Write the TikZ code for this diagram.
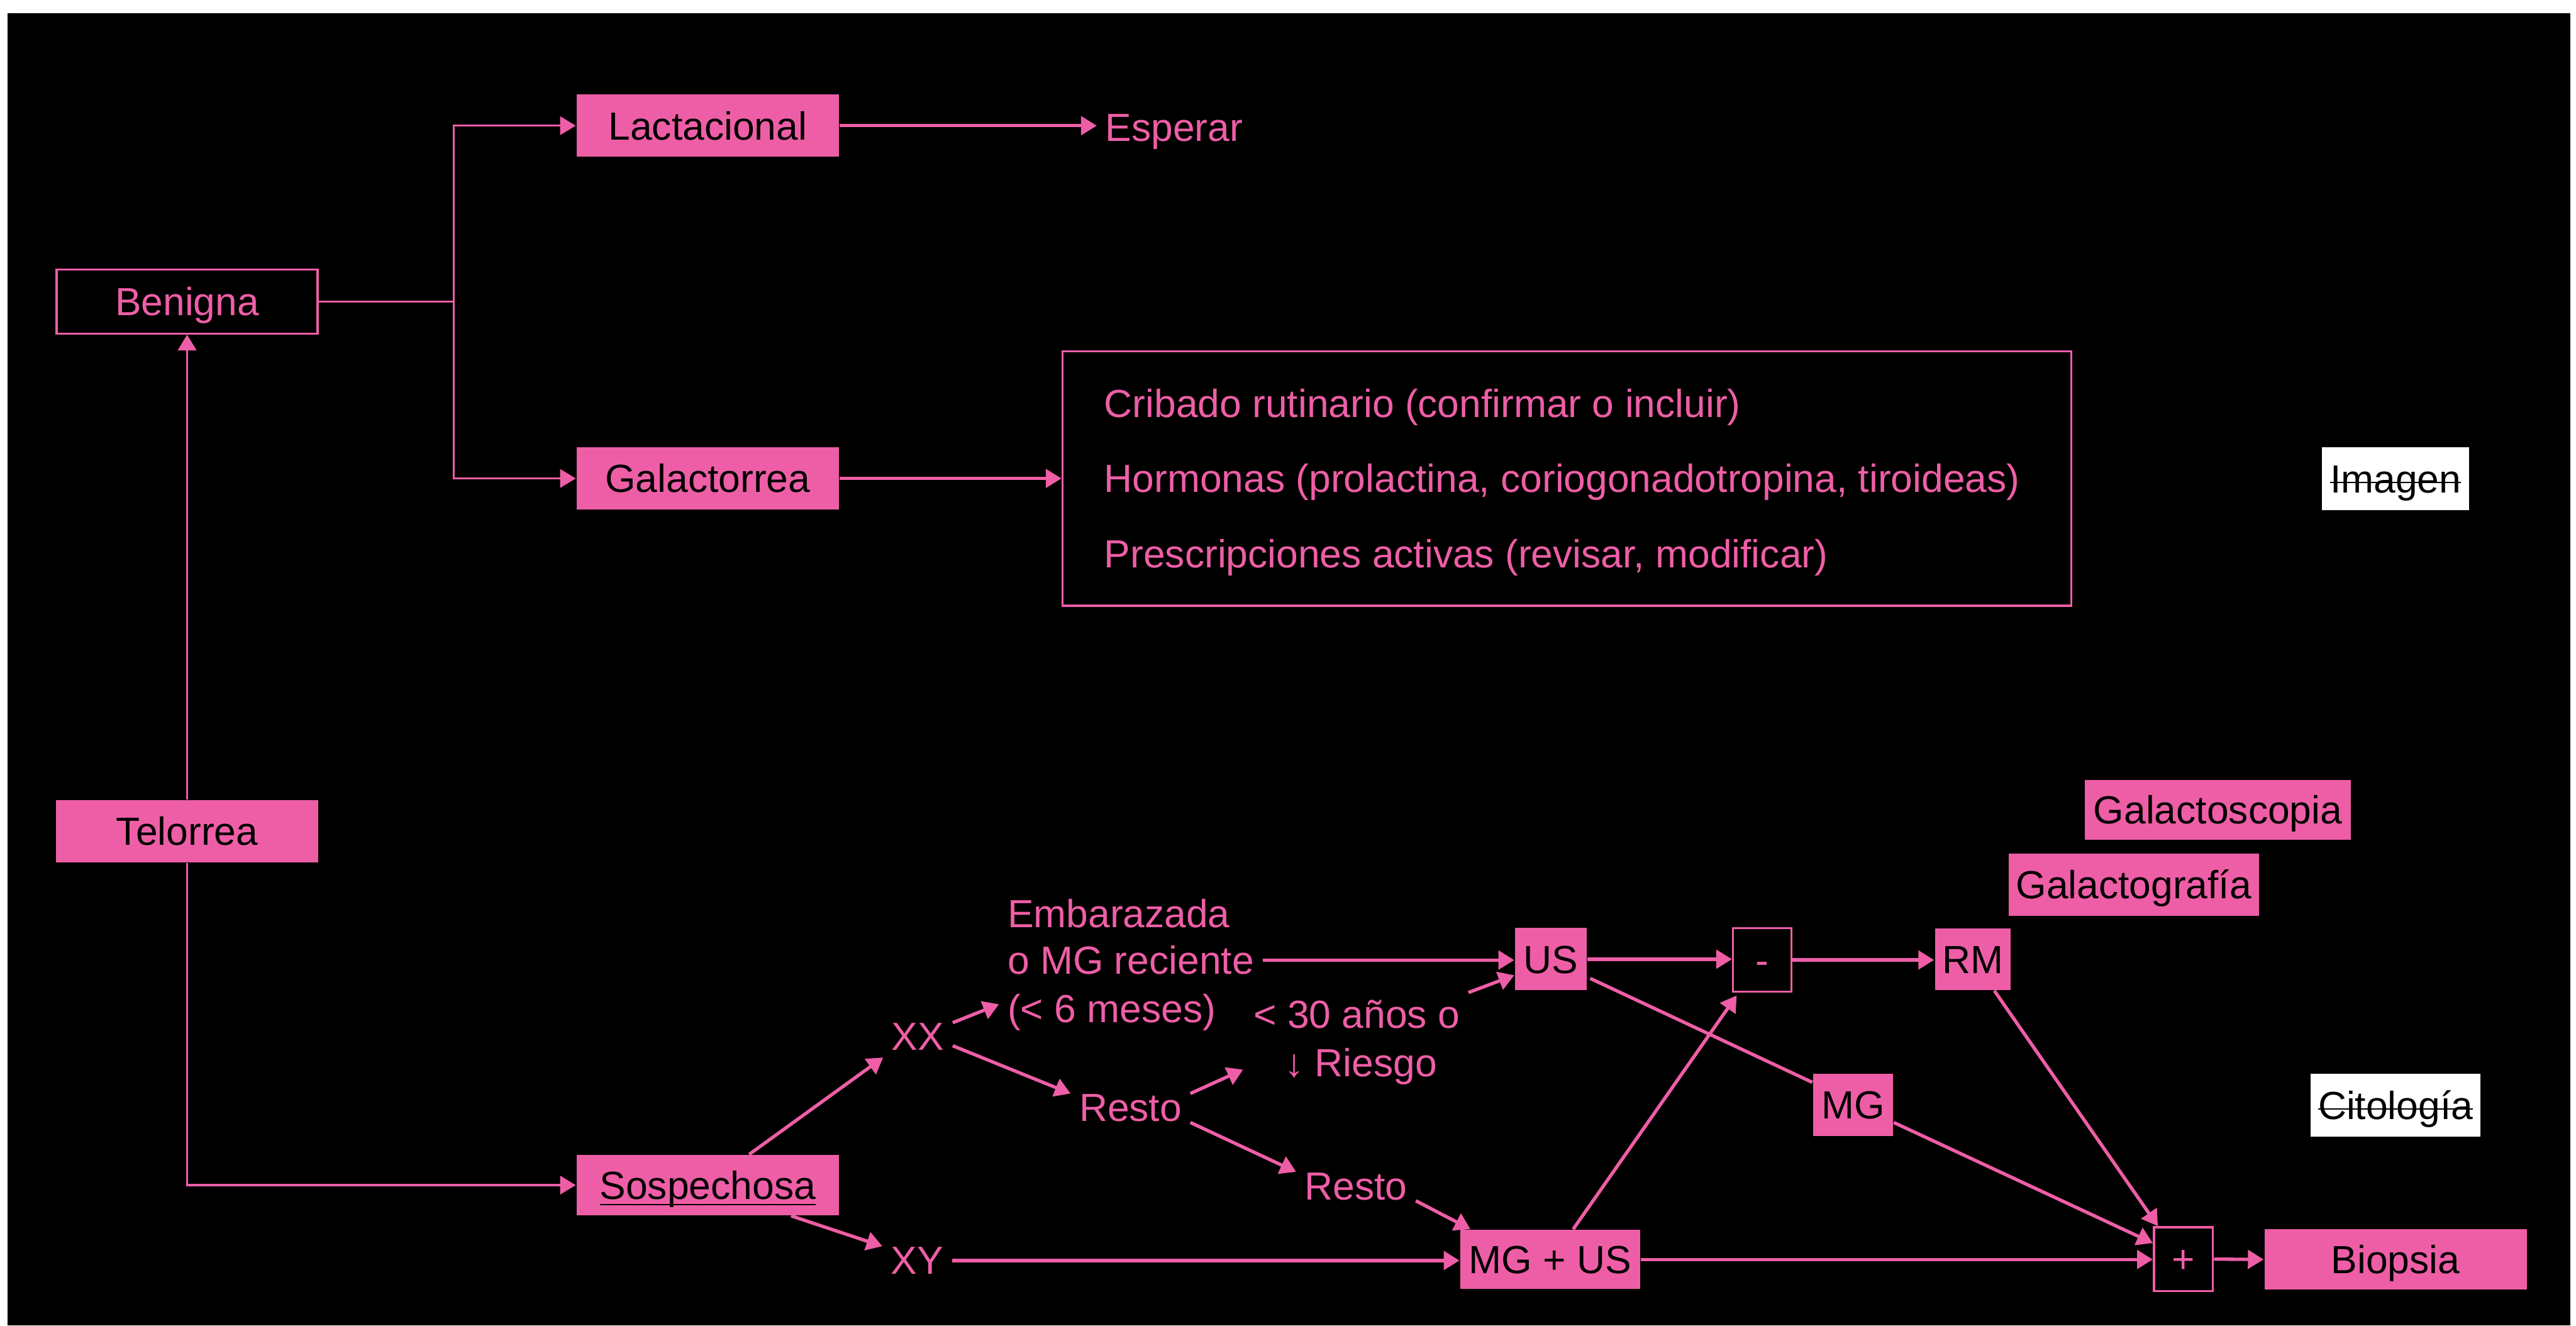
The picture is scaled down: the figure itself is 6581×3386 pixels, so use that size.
\documentclass[tikz,border=0pt]{standalone}
\usepackage{fontspec}
\setmainfont{Liberation Sans}
\usetikzlibrary{arrows.meta,calc}
\newdimen\pxu
\pxu=0.0035cm
\definecolor{rosa}{HTML}{EE5EA6}
% struck-through word: the text, then a thin rule across its middle
\newcommand\tachado[1]{\setbox0\hbox{#1}\copy0\llap{\rule[2.4pt]{\wd0}{0.4pt}}}

\tikzset{
  every node/.style={font=\fontsize{9.96pt}{12pt}\selectfont},
  sz/.style 2 args={minimum width=#1*\pxu, minimum height=#2*\pxu},
  solidbox/.style={fill=rosa, text=black, inner sep=0pt, text height=7.1pt, text depth=0pt},
  hollowbox/.style={draw=rosa, line width=0.55pt, text=rosa, inner sep=0pt, text height=7.1pt, text depth=0pt},
  paperbox/.style={fill=white, text=black, inner sep=0pt, text height=7.1pt, text depth=0pt},
  lbl/.style={text=rosa, inner xsep=2pt, inner ysep=0pt},
  link/.style={draw=rosa, line width=0.5pt},
  tip/.style={-{Triangle[length=4pt,width=4.7pt]}},
  thinarr/.style={link, tip},
  plainline/.style={draw=rosa, line width=0.85pt},
  arr/.style={plainline, tip}
}

\begin{document}
\begin{tikzpicture}[x=0.0035cm, y=-0.0035cm]
% page and dark panel
\fill[white] (0,0) rectangle (6581,3386);
\fill[black] (20,34) rectangle (6566,3386);
\useasboundingbox (0,0) rectangle (6581,3386);

% benign branch
\node[hollowbox, sz={667}{164}] (benigna) at (478,770) {Benigna};
\node[solidbox, sz={670}{159}] (lact) at (1808,321) {Lactacional};
\node[lbl, anchor=base west] (esperar) at (2802,361) {Esperar};
\node[solidbox, sz={670}{159}] (galac) at (1808,1222) {Galactorrea};
\node[draw=rosa, line width=0.55pt, inner sep=0pt, sz={2577}{650}] (pruebas) at (4003,1222) {};
\node[lbl, anchor=base west] (cribado) at (2799,1066) {Cribado rutinario (confirmar o incluir)};
\node[lbl, anchor=base west] (hormonas) at (2799,1258) {Hormonas (prolactina, coriogonadotropina, tiroideas)};
\node[lbl, anchor=base west] (prescrip) at (2799,1450) {Prescripciones activas (revisar, modificar)};
\node[paperbox, sz={376}{160}] (imagen) at (6120,1223) {\tachado{Imagen}};

% root and suspicious branch
\node[solidbox, sz={669}{159}] (telorrea) at (478,2123) {Telorrea};
\node[solidbox, sz={670}{153}] (sosp) at (1808,3027) {\underline{\smash{Sospechosa}}};
\node[lbl, anchor=base] (xx) at (2345,2683) {XX};
\node[lbl, anchor=base] (xy) at (2343,3254) {XY};
\node[lbl, anchor=base west] (emb1) at (2552,2369) {Embarazada};
\node[lbl, anchor=base west] (emb2) at (2552,2488) {o MG reciente};
\node[lbl, anchor=base west] (emb3) at (2552,2612) {(< 6 meses)};
\node[lbl, anchor=base] (resto1) at (2888,2864) {Resto};
\node[lbl, anchor=base] (edad) at (3466,2626) {< 30 años o};
\node[lbl, anchor=base] (riesgo) at (3476,2750) {↓ Riesgo};
\node[lbl, anchor=base] (resto2) at (3464,3064) {Resto};

% imaging and results
\node[solidbox, sz={183}{159}] (us) at (3962,2450) {US};
\node[solidbox, sz={459}{151}] (mgus) at (3960,3217) {MG + US};
\node[hollowbox, sz={149}{162}] (neg) at (4502,2452) {-};
\node[solidbox, sz={194}{157}] (rm) at (5040,2450) {RM};
\node[solidbox, sz={204}{159}] (mg) at (4734,2822) {MG};
\node[solidbox, sz={681}{153}] (gscop) at (5666,2068) {Galactoscopia};
\node[solidbox, sz={639}{159}] (ggraf) at (5451,2260) {Galactografía};
\node[paperbox, sz={435}{160}] (cito) at (6120,2823) {\tachado{Citología}};
\node[hollowbox, sz={151}{163}] (pos) at (5578,3216) {+};
\node[solidbox, sz={670}{154}] (biop) at (6120,3217) {Biopsia};

% connectors of the benign branch
\draw[link] (benigna.east) -- ++(345,0) coordinate (rama);
\draw[thinarr] (rama) |- (lact.west);
\draw[thinarr] (rama) |- (galac.west);
\draw[arr] (lact.east) -- (lact.east -| esperar.west);
\draw[arr] (galac.east) -- (pruebas.west);
\draw[thinarr] (telorrea.north) -- (benigna.south);
\draw[thinarr] (telorrea.south) |- (sosp.west);

% connectors of the suspicious branch
\draw[arr] ([shift={(106,0)}]sosp.north) -- ([shift={(0,16)}]xx.south west);
\draw[arr] ([shift={(213,0)}]sosp.south) -- (xy.north west);
\draw[arr] (xx.north east) -- ([shift={(0,-21)}]emb3.west);
\draw[arr] ([shift={(0,-14)}]xx.south east) -- (resto1.north west);
\draw[arr] (resto1.north east) -- ([shift={(-5,103)}]edad.south west);
\draw[arr] (resto1.south east) -- (resto2.north west);
\draw[arr] (emb2.east) -- (emb2.east -| us.west);
\draw[arr] ([shift={(0,-17)}]edad.north east) -- ([shift={(0,41)}]us.west);
\draw[arr] (resto2.south east) -- ([shift={(28,0)}]mgus.north west);
\draw[arr] (xy.east) -- (xy.east -| mgus.west);
\draw[arr] (us.east) -- (us.east -| neg.west);
\draw[plainline] ([shift={(7,49)}]us.east) -- ([shift={(0,24)}]mg.north west);
\draw[arr] ([shift={(59,0)}]mgus.north) -- ([shift={(12,7)}]neg.south west);
\draw[arr] (neg.east) -- (neg.east -| rm.west);
\draw[arr] ([shift={(55,0)}]rm.south) -- ([shift={(13,0)}]pos.north west);
\draw[arr] ([shift={(0,45)}]mg.east) -- ([shift={(0,-41)}]pos.west);
\draw[arr] (mgus.east) -- (mgus.east -| pos.west);
\draw[arr] (pos.east) -- (biop.west);
\end{tikzpicture}
\end{document}
